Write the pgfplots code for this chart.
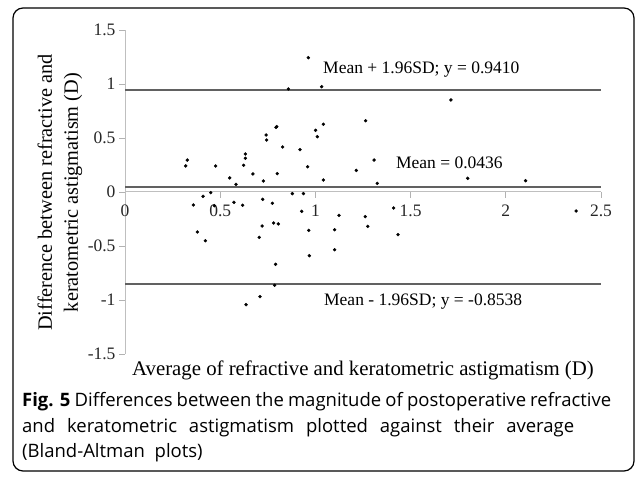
\documentclass[border=0pt]{standalone}
\usepackage{pgfplots}
\pgfplotsset{compat=1.18}
\usepackage{fontspec}
\setmainfont{Liberation Serif}
\newfontfamily\capfont{Open Sans}
\begin{document}
\begin{tikzpicture}
\useasboundingbox (0,0) rectangle (637bp,481bp);
\draw[line width=1.2bp, rounded corners=10bp] (13bp,10bp) rectangle (634bp,473bp);
\begin{axis}[
  at={(125bp,127bp)}, anchor=south west,
  scale only axis, width=476bp, height=324bp,
  xmin=0, xmax=2.5, ymin=-1.5, ymax=1.5,
  axis x line=middle, axis y line=left,
  axis line style={draw=black!25, line width=1bp, -},
  hide obscured x ticks=false, hide obscured y ticks=false,
  xtick={0,0.5,1,1.5,2,2.5}, xticklabels={0,0.5,1,1.5,2,2.5},
  ytick={-1.5,-1,-0.5,0,0.5,1,1.5}, yticklabels={-1.5,-1,-0.5,0,0.5,1,1.5},
  tick style={draw=black!30, line width=0.8bp},
  major tick length=6bp,
  tick align=outside,
  ticklabel style={font=\fontsize{17.5bp}{20bp}\selectfont, text=black!85},
  xticklabel style={yshift=-3bp},
  clip=false,
]
\addplot[draw=black!62, line width=1.8bp] coordinates {(0,0.941) (2.5,0.941)};
\addplot[draw=black!62, line width=1.8bp] coordinates {(0,0.0436) (2.5,0.0436)};
\addplot[draw=black!62, line width=1.8bp] coordinates {(0,-0.8538) (2.5,-0.8538)};
\addplot[only marks, mark=*, mark size=1.5bp, black] coordinates {
(0.963,1.244) (0.858,0.954) (1.033,0.975) (1.264,0.660) (1.042,0.627)
(1.001,0.571) (1.010,0.512) (0.793,0.599) (0.797,0.605) (0.741,0.528)
(0.744,0.481) (0.828,0.417) (0.919,0.392) (0.632,0.352) (0.632,0.312)
(0.327,0.296) (0.319,0.241) (0.476,0.241) (0.623,0.247) (0.959,0.234)
(1.308,0.296) (1.215,0.200) (0.672,0.167) (0.800,0.170) (0.550,0.130)
(0.727,0.102) (1.042,0.111) (0.583,0.071) (1.325,0.080) (0.450,-0.006)
(0.879,-0.015) (0.937,-0.015) (0.410,-0.040) (0.359,-0.120) (0.469,-0.127)
(0.572,-0.096) (0.618,-0.123) (0.723,-0.068) (0.774,-0.105) (0.380,-0.370)
(0.422,-0.451) (0.720,-0.315) (0.705,-0.420) (0.781,-0.287) (0.805,-0.296)
(0.928,-0.179) (0.965,-0.355) (0.968,-0.590) (0.791,-0.670) (0.786,-0.864)
(0.709,-0.969) (0.636,-1.043) (1.124,-0.216) (1.101,-0.349) (1.101,-0.534)
(1.262,-0.228) (1.275,-0.318) (1.411,-0.148) (1.434,-0.395) (1.712,0.852)
(1.800,0.127) (2.104,0.105) (2.369,-0.176)
};
\node[anchor=west, inner sep=0, font=\fontsize{17.5bp}{20bp}\selectfont] at (axis cs:1.040,1.130) {Mean + 1.96SD; y = 0.9410};
\node[anchor=west, inner sep=0, font=\fontsize{17.5bp}{20bp}\selectfont] at (axis cs:1.423,0.269) {Mean = 0.0436};
\node[anchor=west, inner sep=0, font=\fontsize{17.5bp}{20bp}\selectfont] at (axis cs:1.045,-1.019) {Mean - 1.96SD; y = -0.8538};
\end{axis}
\node[rotate=90, align=center, inner sep=0, font=\fontsize{20.3bp}{26bp}\selectfont] at (60bp,288.5bp) {Difference between refractive and\\keratometric astigmatism (D)};
\node[inner sep=0, font=\fontsize{20.8bp}{24bp}\selectfont] at (363bp,111bp) {Average of refractive and keratometric astigmatism (D)};
\node[anchor=west, inner sep=0] at (22bp,79bp) {\capfont\fontsize{18.5bp}{22bp}\selectfont\makebox[589bp][s]{\textbf{Fig. 5} Differences between the magnitude of postoperative refractive}};
\node[anchor=west, inner sep=0] at (22bp,53bp) {\capfont\fontsize{18.5bp}{22bp}\selectfont\makebox[552bp][s]{and keratometric astigmatism plotted against their average}};
\node[anchor=west, inner sep=0] at (22bp,28bp) {\capfont\fontsize{18.5bp}{22bp}\selectfont (Bland-Altman\ \ plots)};
\end{tikzpicture}
\end{document}
